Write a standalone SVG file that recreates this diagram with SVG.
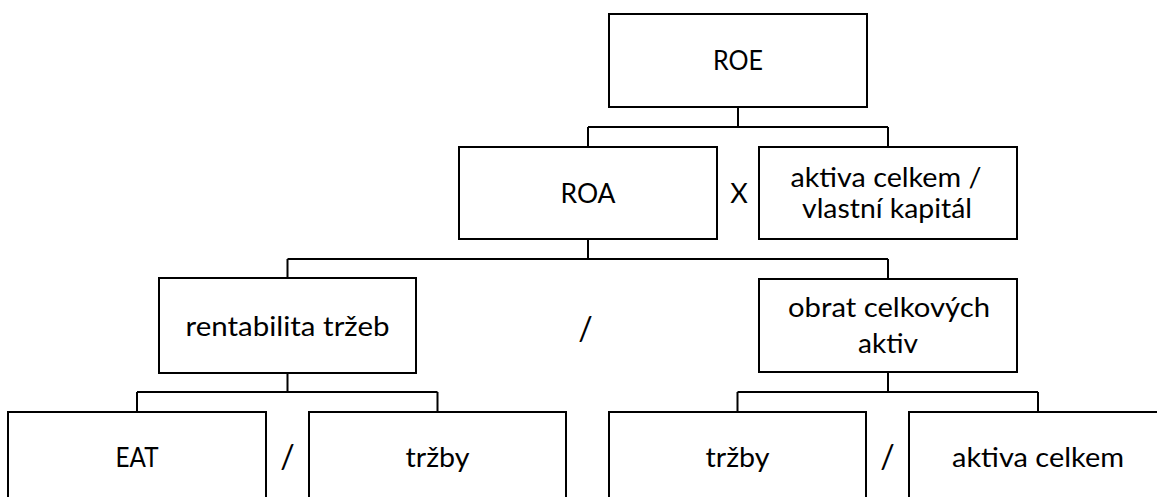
<svg xmlns="http://www.w3.org/2000/svg" width="1157" height="497" viewBox="0 0 1157 497">
<style>
  .box { fill: #ffffff; stroke: #000000; stroke-width: 2; }
  .conn { fill: none; stroke: #000000; stroke-width: 2; }
  text { font-family: Lato, "Open Sans", "Liberation Sans", sans-serif; font-size: 27px; fill: #000000; text-anchor: middle; }
  .op { font-size: 32px; }
</style>
<rect x="0" y="0" width="1157" height="497" fill="#ffffff"/>
<g id="connectors">
  <path class="conn" d="M738 107 V127 M588 127 H888 M588 127 V147 M888 127 V147"/>
  <path class="conn" d="M588 239 V259 M287.5 259 H888 M287.5 259 V278 M888 259 V279"/>
  <path class="conn" d="M287.5 373 V392 M137 392 H437.5 M137 392 V412 M437.5 392 V412"/>
  <path class="conn" d="M888 372 V392 M737.5 392 H1038 M737.5 392 V412 M1038 392 V412"/>
</g>
<g id="node-roe">
  <rect class="box" x="609" y="14" width="258" height="93"/>
  <text x="738" y="70" textLength="50" lengthAdjust="spacingAndGlyphs">ROE</text>
</g>
<g id="node-roa">
  <rect class="box" x="459" y="147" width="258" height="92"/>
  <text x="588" y="203" textLength="55" lengthAdjust="spacingAndGlyphs">ROA</text>
</g>
<g id="node-aktiva-vlastni">
  <rect class="box" x="759" y="147" width="258" height="92"/>
  <text x="886" y="186.5" textLength="191" lengthAdjust="spacingAndGlyphs">aktiva celkem /</text>
  <text x="887" y="218" textLength="170" lengthAdjust="spacingAndGlyphs">vlastní kapitál</text>
</g>
<g id="node-rentabilita">
  <rect class="box" x="159" y="278" width="257" height="95"/>
  <text x="287.5" y="336" textLength="204" lengthAdjust="spacingAndGlyphs">rentabilita tržeb</text>
</g>
<g id="node-obrat">
  <rect class="box" x="759" y="279" width="258" height="93"/>
  <text x="889" y="317" textLength="202" lengthAdjust="spacingAndGlyphs">obrat celkových</text>
  <text x="888" y="353" textLength="60" lengthAdjust="spacingAndGlyphs">aktiv</text>
</g>
<g id="node-eat">
  <rect class="box" x="8" y="412" width="258" height="100"/>
  <text x="137" y="467" textLength="43" lengthAdjust="spacingAndGlyphs">EAT</text>
</g>
<g id="node-trzby-1">
  <rect class="box" x="309" y="412" width="257" height="100"/>
  <text x="437.5" y="467" textLength="64" lengthAdjust="spacingAndGlyphs">tržby</text>
</g>
<g id="node-trzby-2">
  <rect class="box" x="609" y="412" width="257" height="100"/>
  <text x="737.5" y="467" textLength="64" lengthAdjust="spacingAndGlyphs">tržby</text>
</g>
<g id="node-aktiva-celkem">
  <rect class="box" x="909" y="412" width="258" height="100"/>
  <text x="1038" y="467" textLength="172" lengthAdjust="spacingAndGlyphs">aktiva celkem</text>
</g>
<g id="operators">
  <text x="739" y="203">X</text>
  <text class="op" x="585.5" y="339.5">/</text>
  <text class="op" x="287.5" y="468">/</text>
  <text class="op" x="887.5" y="468">/</text>
</g>
</svg>
